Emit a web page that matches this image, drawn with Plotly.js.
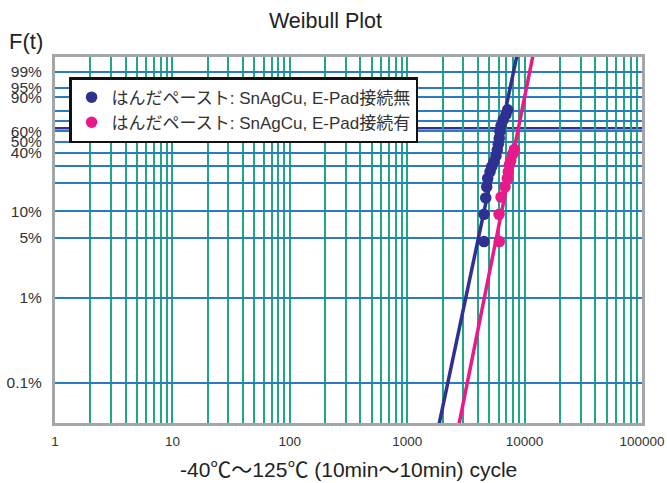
<!DOCTYPE html>
<html>
<head>
<meta charset="utf-8">
<script src="https://cdn.plot.ly/plotly-3.0.1.min.js"></script>
<style>html,body{margin:0;padding:0;background:#fff;}#chart{width:667px;height:483px;}</style>
</head>
<body>
<div id="chart"></div>
<script>
// ---- data ----
const seriesNames = ["はんだペースト: SnAgCu, E-Pad接続無", "はんだペースト: SnAgCu, E-Pad接続有"];
const seriesColors = ["#2e3192", "#e8198b"];

// series 1 (接続無): cycles to failure and cumulative failure (%)
const cyclesA = [4510, 4510, 4665, 4755, 4850, 5073, 5244, 5487, 5704, 5850, 5970, 6083, 6166, 6295, 6577, 6934, 7172];
const failA   = [4.5, 9.2, 14.0, 18.4, 22.6, 26.4, 29.7, 33.2, 37.5, 42.5, 47.6, 53.4, 59.9, 65.6, 71.5, 76.3, 80.8];

// series 2 (接続有)
const cyclesB = [6090, 6055, 6295, 6808, 7122, 7265, 7410, 7620, 7920, 8175];
const failB   = [4.5, 9.2, 14.3, 18.4, 22.6, 26.4, 31.0, 34.0, 39.0, 43.0];

// Weibull fit parameters for the two straight lines (shape beta, scale eta)
const betas = [6.55, 6.9];
const etas  = [6370, 8850];

// axis ticks / grid
const yGridPct  = [0.1, 1, 5, 10, 20, 30, 40, 50, 60, 70, 80, 90, 95, 99];
const yLabelPct = [0.1, 1, 5, 10, 40, 50, 60, 90, 95, 99];
const xDecades  = [1, 10, 100, 1000, 10000, 100000];
const yRangePct = [0.0335, 99.9];

// ---- helpers ----
const w = p => Math.log(-Math.log(1 - p / 100));

const xTickVals = [], xTickText = [];
for (let k = 0; k < 5; k++) {
  for (let m = 1; m <= 9; m++) {
    const v = m * Math.pow(10, k);
    xTickVals.push(v);
    xTickText.push(xDecades.includes(v) ? String(v) : "");
  }
}
xTickVals.push(100000); xTickText.push("100000");

const yTickVals = yGridPct.map(w);
const yTickText = yGridPct.map(p => yLabelPct.includes(p) ? (p + "%") : "");

const yMin = w(yRangePct[0]), yMax = w(yRangePct[1]);

function lineTrace(i) {
  const vs = [yMin - 0.5, yMax + 0.5];
  return {
    x: vs.map(v => etas[i] * Math.exp(v / betas[i])),
    y: vs,
    mode: "lines",
    line: {color: seriesColors[i], width: 3.5},
    showlegend: false,
    hoverinfo: "skip"
  };
}
function pointTrace(i, xs, ps) {
  return {
    x: xs,
    y: ps.map(w),
    mode: "markers",
    name: seriesNames[i],
    marker: {color: seriesColors[i], size: 11.5}
  };
}

const data = [
  lineTrace(0), lineTrace(1),
  pointTrace(0, cyclesA, failA),
  pointTrace(1, cyclesB, failB)
];

const fontFam = "'Liberation Sans', Arial, 'Noto Sans CJK JP', sans-serif";

const layout = {
  width: 667, height: 483,
  margin: {l: 55, r: 25, t: 57, b: 60},
  paper_bgcolor: "#fff", plot_bgcolor: "#fff",
  font: {family: fontFam, color: "#333", size: 13},
  title: {text: "Weibull Plot", font: {size: 21.5, color: "#222"}, x: 0.488, xanchor: "center", y: 0.958, yanchor: "middle"},
  xaxis: {
    type: "log", range: [0, 5],
    tickmode: "array", tickvals: xTickVals, ticktext: xTickText,
    showgrid: true, gridcolor: "#1fa883", gridwidth: 2,
    ticks: "", ticklabelstandoff: 4,
    showline: true, mirror: true, linecolor: "#a3a7ab", linewidth: 3,
    zeroline: false, tickfont: {size: 13.5, color: "#333"}
  },
  yaxis: {
    range: [yMin, yMax],
    tickmode: "array", tickvals: yTickVals, ticktext: yTickText,
    showgrid: true, gridcolor: "#2a7cc2", gridwidth: 2,
    ticks: "", ticklabelstandoff: 7,
    showline: true, mirror: true, linecolor: "#a3a7ab", linewidth: 3,
    zeroline: false, tickfont: {size: 15.5, color: "#333"}
  },
  shapes: [{
    type: "line", xref: "paper", x0: 0, x1: 1, yref: "y", y0: 0, y1: 0,
    line: {color: "#3a2f8c", width: 2.5}, layer: "below"
  }],
  legend: {
    x: 0.024, y: 0.945, xanchor: "left", yanchor: "top",
    bgcolor: "#fff", bordercolor: "#111", borderwidth: 2.5,
    font: {size: 17, color: "#333"}, tracegroupgap: 0
  },
  annotations: [
    {text: "F(t)", xref: "paper", yref: "paper", x: -0.082, y: 1.042, xanchor: "left", yanchor: "middle",
     showarrow: false, font: {size: 22, color: "#222"}},
    {text: "-40℃～125℃ (10min～10min) cycle", xref: "paper", yref: "paper", x: 0.5, y: -0.128,
     xanchor: "center", yanchor: "middle", showarrow: false, font: {size: 21, color: "#222"}}
  ],
  showlegend: true
};

Plotly.newPlot("chart", data, layout, {displayModeBar: false, staticPlot: true});
</script>
</body>
</html>
